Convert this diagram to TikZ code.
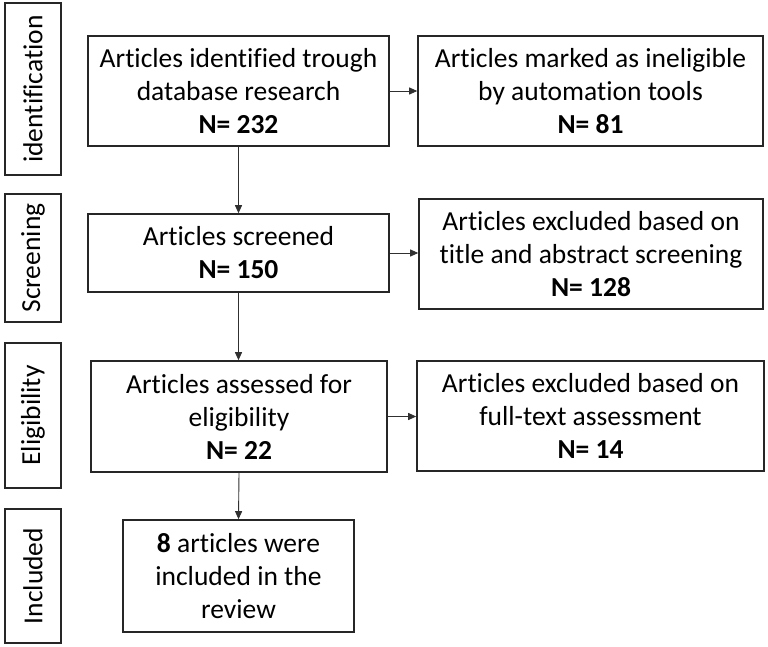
\documentclass[tikz,border=0pt]{standalone}
\usepackage{fontspec}
\setmainfont[RawFeature=-liga]{Carlito}
\usetikzlibrary{arrows.meta}
\definecolor{edge}{HTML}{262626}
\definecolor{conn}{HTML}{303030}
\tikzset{
  box/.style={draw=edge, line width=1.6pt, rectangle, inner sep=0pt, align=center,
    font=\fontsize{27.5}{33}\selectfont, text=black},
  stage/.style={box, rotate=90},
  conn/.style={draw=conn, line width=0.9pt, -{Triangle[length=8pt,width=7pt]}}
}
\begin{document}
\begin{tikzpicture}[x=1pt,y=-1pt]
\useasboundingbox (0,0) rectangle (768,646);
% stage boxes (rotated: minimum width is vertical extent)
\node[stage, minimum width=172pt, minimum height=56pt] (s1) at (33,89) {identification};
\node[stage, minimum width=128pt, minimum height=56pt] (s2) at (33,258) {Screening};
\node[stage, minimum width=145pt, minimum height=56pt] (s3) at (33,415.5) {Eligibility};
\node[stage, minimum width=134pt, minimum height=56pt] (s4) at (33,576) {Included};
% main boxes
\node[box, minimum width=301pt, minimum height=110pt] (A) at (238.5,91)
  {Articles identified trough\\database research\\\textbf{N= 232}};
\node[box, minimum width=301pt, minimum height=78pt] (B) at (238.5,253)
  {Articles screened\\\textbf{N= 150}};
\node[box, minimum width=296pt, minimum height=111pt] (C) at (239,416.5)
  {Articles assessed for\\eligibility\\\textbf{N= 22}};
\node[box, minimum width=231pt, minimum height=112pt] (F) at (238.5,576)
  {\textbf{8} articles were\\included in the\\review};
% side boxes
\node[box, minimum width=345pt, minimum height=110pt] (D) at (590.5,91)
  {Articles marked as ineligible\\by automation tools\\\textbf{N= 81}};
\node[box, minimum width=344pt, minimum height=110pt] (E) at (591,254)
  {Articles excluded based on\\title and abstract screening\\\textbf{N= 128}};
\node[box, minimum width=347pt, minimum height=110pt] (G) at (590.5,416)
  {Articles excluded based on\\full-text assessment\\\textbf{N= 14}};
% connectors
\draw[conn] (A.south) -- (B.north);
\draw[conn] (B.south) -- (B.south |- C.north);
\draw[conn] (C.south) -- (F.north);
\draw[conn] (A.east) -- (A.east -| D.west);
\draw[conn] (B.east) -- (B.east -| E.west);
\draw[conn] (C.east) -- (C.east -| G.west);
\end{tikzpicture}
\end{document}
